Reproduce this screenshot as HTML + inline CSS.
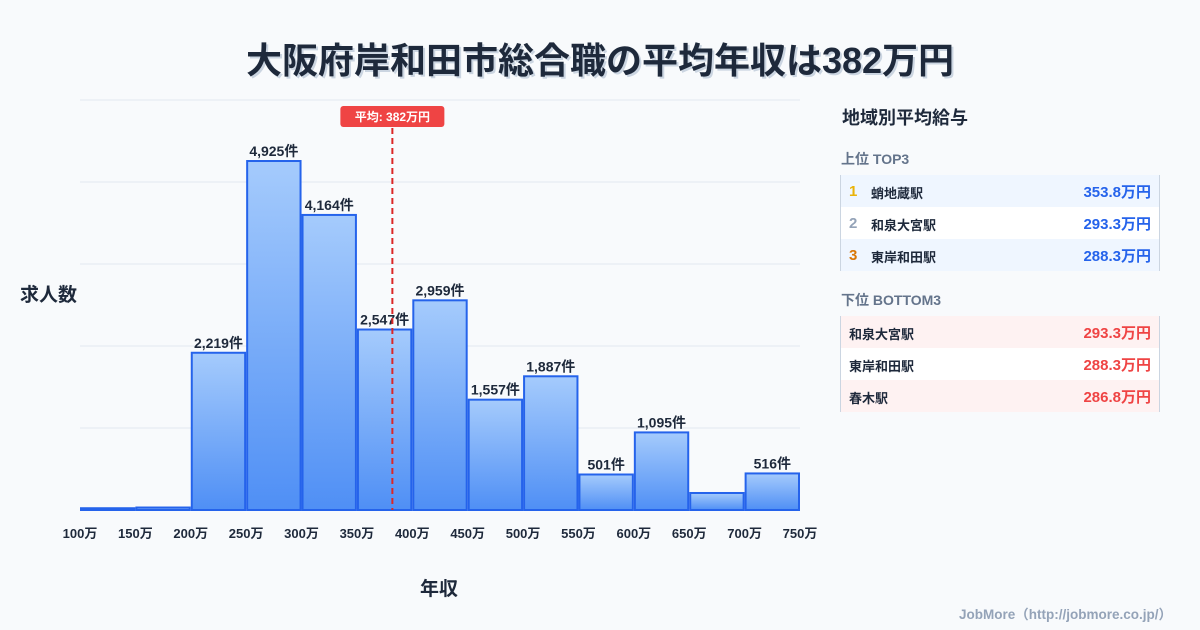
<!DOCTYPE html>
<html><head><meta charset="utf-8">
<style>
body{margin:0;width:1200px;height:630px;background:#f8fafc;font-family:"Liberation Sans","Noto Sans CJK JP",sans-serif;overflow:hidden;position:relative}
.t{position:absolute;white-space:nowrap}
.row{position:absolute;left:840px;width:320px;height:32px;border-left:1px solid #cbd5e1;border-right:1px solid #cbd5e1;box-sizing:border-box;font-size:13px;font-weight:bold;color:#1e293b}
.row span{position:absolute;top:8px}
.row .v{right:8px;top:6px;font-size:15px}
.row .n{left:8px;font-size:15px;top:8px}
</style></head><body>
<div class="t" style="left:0;width:1200px;text-align:center;top:32px;font-size:36px;font-weight:bold;color:#1e293b;text-shadow:2px 2px 0 #cbd5e1">大阪府岸和田市総合職の平均年収は382万円</div>
<svg id="chart" width="1200" height="630" style="position:absolute;left:0;top:0"></svg>
<div class="t" style="left:20px;top:280px;font-size:19px;font-weight:bold;color:#1e293b">求人数</div>
<div class="t" style="left:420px;top:574px;font-size:19px;font-weight:bold;color:#1e293b">年収</div>
<div class="t" style="left:842px;top:104px;font-size:18px;font-weight:bold;color:#1e293b">地域別平均給与</div>
<div class="t" style="left:841px;top:149px;font-size:14px;font-weight:bold;color:#64748b">上位 TOP3</div>
<div class="row" style="top:175px;background:#eff6ff"><span class="n" style="color:#eab308">1</span><span style="left:30px">蛸地蔵駅</span><span class="v" style="color:#2563eb">353.8万円</span></div>
<div class="row" style="top:207px;background:#fff"><span class="n" style="color:#94a3b8">2</span><span style="left:30px">和泉大宮駅</span><span class="v" style="color:#2563eb">293.3万円</span></div>
<div class="row" style="top:239px;background:#eff6ff"><span class="n" style="color:#d97706">3</span><span style="left:30px">東岸和田駅</span><span class="v" style="color:#2563eb">288.3万円</span></div>
<div class="t" style="left:841px;top:290px;font-size:14px;font-weight:bold;color:#64748b">下位 BOTTOM3</div>
<div class="row" style="top:316px;background:#fef2f2"><span style="left:8px">和泉大宮駅</span><span class="v" style="color:#ef4444">293.3万円</span></div>
<div class="row" style="top:348px;background:#fff"><span style="left:8px">東岸和田駅</span><span class="v" style="color:#ef4444">288.3万円</span></div>
<div class="row" style="top:380px;background:#fef2f2"><span style="left:8px">春木駅</span><span class="v" style="color:#ef4444">286.8万円</span></div>
<div class="t" style="right:28px;top:603px;font-size:13.5px;font-weight:bold;color:#94a3b8">JobMore（http://jobmore.co.jp/）</div>
<script>
const binStarts=[100,150,200,250,300,350,400,450,500,550,600,650,700];
const counts=[25,35,2219,4925,4164,2547,2959,1557,1887,501,1095,240,516];
const showLabel=[false,false,true,true,true,true,true,true,true,true,true,false,true];
const xTicks=[100,150,200,250,300,350,400,450,500,550,600,650,700,750];
const avg=382;
const NS="http://www.w3.org/2000/svg";
const svg=document.getElementById('chart');
const x0=80,x1=800,yb=510,yt=100,ymax=5786;
const X=v=>x0+(v-100)/650*(x1-x0);
const Y=v=>yb-v/ymax*(yb-yt);
function mk(t,a){const e=document.createElementNS(NS,t);for(const k in a)e.setAttribute(k,a[k]);svg.appendChild(e);return e;}
const defs=mk('defs',{});
defs.innerHTML='<linearGradient id="g" x1="0" y1="0" x2="0" y2="1"><stop offset="0" stop-color="#a5cbfc"/><stop offset="1" stop-color="#4f8ff5"/></linearGradient>';
for(let i=0;i<=5;i++){const y=yb-i*(yb-yt)/5;const l=mk('line',{x1:x0,x2:x1,y1:y,y2:y,stroke:'#e2e8f0','stroke-width':1});

}
binStarts.forEach((b,i)=>{const xa=X(b)+1,xb=X(b+50)-1,y=Y(counts[i]);
const r=mk('rect',{x:xa,y:y,width:xb-xa,height:yb-y,fill:'url(#g)',stroke:'#2563eb','stroke-width':2});


if(showLabel[i]){const t=mk('text',{x:(xa+xb)/2,y:y-5,'text-anchor':'middle','font-size':14,'font-weight':'bold',fill:'#1e293b'});t.textContent=counts[i].toLocaleString('en-US')+'件';

}});
xTicks.forEach(v=>{const t=mk('text',{x:X(v),y:538,'text-anchor':'middle','font-size':13,'font-weight':'bold',fill:'#1e293b'});t.textContent=v+'万';

});
const ax=X(avg);
const al=mk('line',{x1:ax,x2:ax,y1:128,y2:yb,stroke:'#dc2626','stroke-width':2,'stroke-dasharray':'6,4'});


const ab=mk('rect',{x:ax-52,y:106,width:104,height:21,rx:3,fill:'#ef4444'});


const at=mk('text',{x:ax,y:121,'text-anchor':'middle','font-size':12,'font-weight':'bold',fill:'#fff'});at.textContent='平均: '+avg+'万円';


</script>
</body></html>
